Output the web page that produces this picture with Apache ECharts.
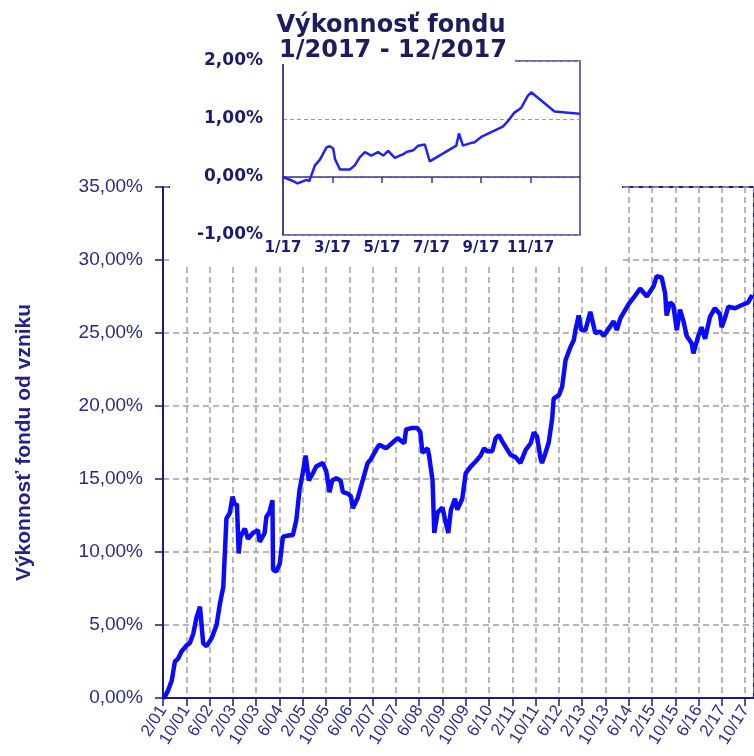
<!DOCTYPE html>
<html>
<head>
<meta charset="utf-8">
<script src="https://cdn.jsdelivr.net/npm/echarts@6/dist/echarts.min.js"></script>
<style>html,body{margin:0;padding:0;background:#fff}#c{width:754px;height:756px}</style>
</head>
<body>
<div id="c"></div>
<script>
// Main chart: months since 2/2001, cumulative performance in %
var mainMonths = [0,0.7,1.8,3.0,4.1,5.2,6.4,8.1,9.2,10.4,11.5,12.7,13.3,13.8,15.0,16.7,18.4,19.5,20.7,21.8,22.9,23.9,24.7,25.4,26.0,26.6,28.1,29.2,30.9,32.6,33.2,34.9,35.5,36.6,37.6,37.8,38.9,40.1,41.2,43.5,44.6,45.8,46.9,48.0,49.0,50.1,51.5,52.6,54.9,56.1,57.2,58.1,59.5,61.0,61.8,63.5,64.6,65.2,66.9,68.6,70.3,71.2,73.2,74.3,76.6,78.9,80.6,82.9,83.5,85.7,87.4,88.4,89.1,90.9,91.4,92.6,93.2,94.3,96.0,97.2,98.0,98.9,100.3,101.1,102.8,104.0,105.7,107.4,109.1,110.3,111.4,113.1,114.3,115.4,116.5,118.3,119.4,121.1,122.8,124.6,126.3,127.4,128.5,129.7,130.2,131.4,132.5,133.7,134.2,136.0,137.1,138.3,140.0,141.1,141.7,142.8,143.7,145.1,146.8,148.5,150.2,151.4,153.1,154.8,155.9,157.1,160.0,161.6,163.9,166.2,168.5,169.6,171.3,172.5,173.0,174.2,175.3,176.5,177.6,178.8,179.9,181.6,182.2,183.9,185.0,186.2,187.9,189.6,191.3,191.9,193.0,194.2,196.5,198.7,201.0,202.4];
var mainValues = [0,0.1,0.55,1.2,2.5,2.7,3.2,3.6,3.75,4.4,5.5,6.25,6.3,3.75,3.55,4.1,5.0,6.4,7.6,12.3,12.65,13.8,13.2,13.3,9.9,11.05,11.6,10.9,11.3,11.5,10.7,11.3,12.4,12.75,13.55,8.8,8.65,9.2,11.05,11.15,11.15,12.2,14.25,15.4,16.6,14.9,15.4,15.85,16.1,15.5,14.1,14.9,15.05,14.9,14.1,14.0,13.8,13.0,13.7,14.9,16.1,16.3,17.0,17.35,17.1,17.5,17.8,17.45,18.4,18.5,18.5,18.2,16.8,17.1,16.6,14.9,11.3,12.7,13.05,11.95,11.3,12.9,13.65,12.9,13.65,15.4,15.85,16.2,16.6,17.1,16.9,16.9,17.8,18.0,17.6,17.0,16.65,16.5,16.1,17.0,17.45,18.2,17.9,16.4,16.1,16.8,17.5,19.15,20.5,20.75,21.3,23.15,24.05,24.5,25.2,26.2,25.2,25.2,26.45,25.0,25.1,24.8,25.3,25.8,25.2,26.0,27.0,27.4,28.05,27.5,28.2,28.9,28.8,27.7,26.2,27.1,26.9,25.2,26.6,25.8,24.8,24.3,23.6,24.8,25.4,24.6,26.1,26.7,26.3,25.4,26.0,26.8,26.7,26.9,27.1,27.6];

// Inset: months since 1/2017, performance in %
var insetMonths = [0,0.35,0.59,0.82,0.95,1.06,1.29,1.49,1.76,1.89,2.03,2.10,2.30,2.70,2.90,3.10,3.31,3.57,3.84,4.05,4.25,4.52,4.72,4.85,4.99,5.26,5.46,5.73,5.93,7.00,7.11,7.27,7.54,7.74,8.01,8.88,9.08,9.35,9.62,9.89,10.03,10.97,11.98];
var insetValues = [0,-0.06,-0.11,-0.07,-0.05,-0.07,0.2,0.3,0.51,0.53,0.49,0.31,0.13,0.13,0.2,0.34,0.43,0.37,0.43,0.37,0.45,0.33,0.37,0.39,0.43,0.46,0.54,0.56,0.27,0.54,0.75,0.54,0.58,0.6,0.69,0.87,0.96,1.11,1.19,1.4,1.46,1.13,1.09];

var titleLines = ['Výkonnosť fondu', '1/2017 - 12/2017'];
var yAxisName = 'Výkonnosť fondu od vzniku';

function pct(v){ return v.toFixed(2).replace('.', ',') + '%'; }
function mainLabel(v){
  if (v % 8 !== 0) return '';
  var t = 1 + v; var m = (t % 12) + 1; var y = 2001 + Math.floor(t / 12);
  return m + '/' + String(y % 100).padStart(2, '0');
}
function insetLabel(v){ if (v >= 12) return ''; return (v + 1) + '/17'; }

function zip(a, b){ return a.map(function(x, i){ return [x, b[i]]; }); }

var navy = '#1a1a80';
var chart = echarts.init(document.getElementById('c'));
chart.setOption({
  animation: false,
  backgroundColor: '#fff',
  grid: [
    {left: 163, top: 187, right: -2, bottom: 58, show: true, borderColor: navy, borderWidth: 2, backgroundColor: 'transparent', z: 0},
    {left: 283, top: 61, right: 174, bottom: 521, show: true, borderColor: '#3a3a8c', borderWidth: 1.5, backgroundColor: 'transparent', z: 6}
  ],
  xAxis: [
    {type: 'value', gridIndex: 0, min: 0, max: 203, interval: 8,
     axisLine: {lineStyle: {color: navy, width: 2}},
     axisTick: {show: true, length: 8, lineStyle: {color: navy, width: 1.5}},
     axisLabel: {formatter: mainLabel, rotate: 58, color: '#2b2b8c', fontSize: 17, fontFamily: 'Liberation Sans, Arial', margin: 9, showMaxLabel: false},
     splitLine: {show: true, lineStyle: {color: '#a0a0a0', width: 1.5, type: [6, 4]}}},
    {type: 'value', gridIndex: 1, min: 0, max: 12, interval: 2, z: 7,
     axisLine: {lineStyle: {color: '#3a3a8c', width: 1.5}},
     axisTick: {show: true, length: 6, lineStyle: {color: '#3a3a8c', width: 1.5}},
     axisLabel: {formatter: insetLabel, color: '#1c1c6e', fontSize: 15, fontWeight: 'bold', fontFamily: 'DejaVu Sans', margin: 6, showMaxLabel: false},
     splitLine: {show: false}}
  ],
  yAxis: [
    {type: 'value', gridIndex: 0, min: 0, max: 35, interval: 5,
     name: yAxisName, nameLocation: 'middle', nameGap: 128, nameRotate: 90,
     nameTextStyle: {color: '#22228a', fontSize: 21, fontWeight: 'bold', fontFamily: 'Liberation Sans, Arial'},
     axisLine: {show: true, lineStyle: {color: navy, width: 2}},
     axisTick: {show: true, length: 8, lineStyle: {color: navy, width: 1.5}},
     axisLabel: {formatter: pct, color: '#2b2b8c', fontSize: 19, fontFamily: 'Liberation Sans, Arial', margin: 20},
     splitLine: {show: true, lineStyle: {color: '#a0a0a0', width: 1.5, type: [6, 4]}}},
    {type: 'value', gridIndex: 1, min: -1, max: 2, interval: 1, z: 7,
     axisLine: {show: true, lineStyle: {color: '#3a3a8c', width: 1.5}},
     axisTick: {show: false},
     axisLabel: {formatter: pct, color: '#1c1c6e', fontSize: 17, fontWeight: 'bold', fontFamily: 'DejaVu Sans', margin: 20},
     splitLine: {show: true, lineStyle: {color: '#999', width: 1, type: [4, 3]}}}
  ],
  series: [
    {type: 'line', xAxisIndex: 0, yAxisIndex: 0, data: zip(mainMonths, mainValues), showSymbol: false,
     lineStyle: {color: '#0a0aff', width: 4.5}, z: 2},
    {type: 'line', xAxisIndex: 1, yAxisIndex: 1, data: zip(insetMonths, insetValues), showSymbol: false,
     lineStyle: {color: '#2020ff', width: 2.5}, z: 8}
  ],
  graphic: [
    {type: 'rect', z: 5, shape: {x: 170, y: 0, width: 452, height: 263}, style: {fill: '#fff'}, silent: true},
    {type: 'rect', z: 9, shape: {x: 272, y: 0, width: 243, height: 64}, style: {fill: '#fff'}, silent: true},
    {type: 'text', z: 10, x: 391, y: 26, style: {text: titleLines[0], fill: '#1c1c5e', font: 'bold 24px "DejaVu Sans"', align: 'center', verticalAlign: 'middle'}},
    {type: 'text', z: 10, x: 393, y: 51, style: {text: titleLines[1], fill: '#1c1c5e', font: 'bold 24px "DejaVu Sans"', align: 'center', verticalAlign: 'middle'}}
  ]
});
</script>
</body>
</html>
